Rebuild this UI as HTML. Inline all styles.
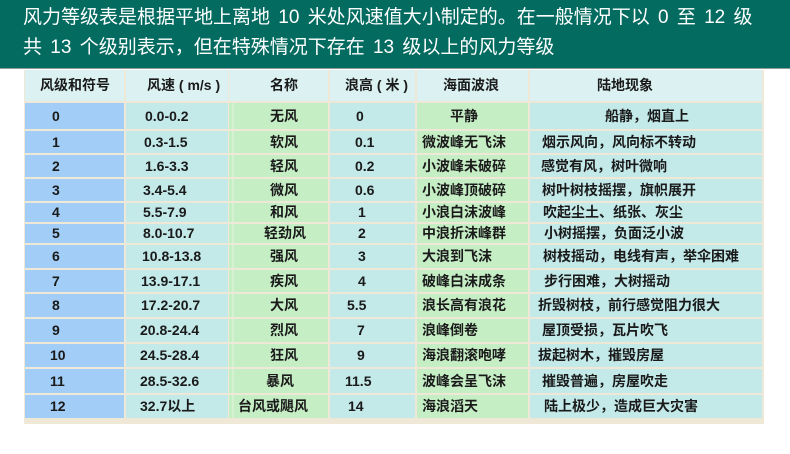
<!DOCTYPE html>
<html><head><meta charset="utf-8">
<style>
*{margin:0;padding:0;box-sizing:border-box}
html,body{width:790px;height:454px;background:#fff;overflow:hidden}
body{position:relative;font-family:"Liberation Sans","Noto Sans CJK SC",sans-serif}
.banner{position:absolute;left:0;top:0;width:790px;height:69px;background:#036b60;border-bottom:1px solid #8f9c98;color:#fff;font-size:19px;line-height:30px;padding:3px 0 0 23px;word-spacing:3px;white-space:nowrap}
.tbl{position:absolute;left:24px;top:70px;width:740px;height:354px;background:#efe8d6}
.c{position:absolute;font-size:14px;font-weight:bold;color:#1a1a1a;white-space:nowrap}
.c span{position:absolute;top:0}
.h{background:#dcf2f2}
.b{background:#a2cdf6}
.y{background:#c3e9e9}
.g{background:#c6eec5}
</style></head><body>
<div class="banner">风力等级表是根据平地上离地 10 米处风速值大小制定的。在一般情况下以 0 至 12 级<br>共 13 个级别表示，但在特殊情况下存在 13 级以上的风力等级</div>
<div class="tbl"></div>
<div id="rows"></div>
<script>
var rows=[
[70,31,["风级和符号","风速 ( m/s )","名称","浪高 ( 米 )","海面波浪","陆地现象"],[40,147,270,345,443,597]],
[103,26,["0","0.0-0.2","无风","0","平静","船静，烟直上"],[52,145,270,356,450,605]],
[131,22,["1","0.3-1.5","软风","0.1","微波峰无飞沫","烟示风向，风向标不转动"],[52,144,270,355,422,542]],
[155,22,["2","1.6-3.3","轻风","0.2","小波峰未破碎","感觉有风，树叶微响"],[52,145,270,355,422,541]],
[179,22,["3","3.4-5.4","微风","0.6","小波峰顶破碎","树叶树枝摇摆，旗帜展开"],[52,143,270,355,422,542]],
[203,19,["4","5.5-7.9","和风","1","小浪白沫波峰","吹起尘土、纸张、灰尘"],[52,143,270,358,422,543]],
[224,19,["5","8.0-10.7","轻劲风","2","中浪折沫峰群","小树摇摆，负面泛小波"],[52,143,264,358,422,544]],
[245,23,["6","10.8-13.8","强风","3","大浪到飞沫","树枝摇动，电线有声，举伞困难"],[52,142,270,358,422,543]],
[270,22,["7","13.9-17.1","疾风","4","破峰白沫成条","步行困难，大树摇动"],[52,141,270,358,422,544]],
[294,23,["8","17.2-20.7","大风","5.5","浪长高有浪花","折毁树枝，前行感觉阻力很大"],[52,141,270,347,422,538]],
[319,23,["9","20.8-24.4","烈风","7","浪峰倒卷","屋顶受损，瓦片吹飞"],[52,140,270,357,422,542]],
[344,23,["10","24.5-28.4","狂风","9","海浪翻滚咆哮","拔起树木，摧毁房屋"],[50,140,270,357,422,538]],
[369,24,["11","28.5-32.6","暴风","11.5","波峰会呈飞沫","摧毁普遍，房屋吹走"],[50,140,266,345,422,542]],
[395,23,["12","32.7以上","台风或飓风","14","海浪滔天","陆上极少，造成巨大灾害"],[50,140,238,348,422,544]]
];
var cols=[[25,99],[126,102],[229,99],[330,85],[417,111],[530,232]];
var data=["b","y","g","y","g","y"];
var html="";
for(var i=0;i<rows.length;i++){
 var r=rows[i];
 for(var j=0;j<6;j++){
  var cls=i==0?"h":data[j];
  var extra="";
  if(j==2&&i>0) extra="box-shadow:inset 3px 0 0 #c6eec5, inset 5px 0 0 #d6f1cf;";
  html+='<div class="c '+cls+'" style="left:'+cols[j][0]+'px;top:'+r[0]+'px;width:'+cols[j][1]+'px;height:'+r[1]+'px;line-height:'+r[1]+'px;'+extra+'"><span style="left:'+(r[3][j]-cols[j][0])+'px">'+r[2][j]+'</span></div>';
 }
}
document.getElementById("rows").innerHTML=html;
</script>
</body></html>
